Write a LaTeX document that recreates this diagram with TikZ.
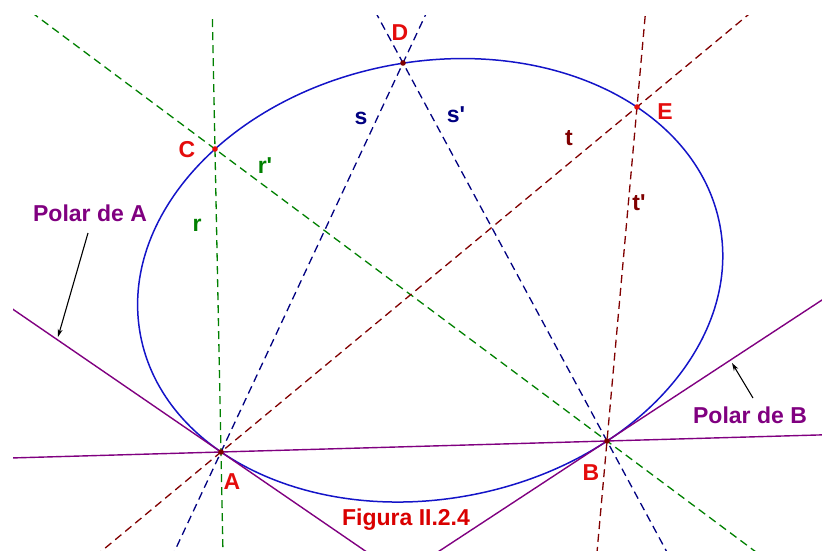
\documentclass[tikz,border=0pt]{standalone}
\usepackage{fontspec}
\setmainfont{Liberation Sans}
\usetikzlibrary{arrows.meta,positioning,calc}
\definecolor{polar}{RGB}{128,0,128}
\definecolor{rgreen}{RGB}{0,128,0}
\definecolor{snavy}{RGB}{0,0,128}
\definecolor{tbrown}{RGB}{128,0,0}
\definecolor{conic}{RGB}{20,20,200}
\definecolor{ptred}{RGB}{228,12,12}

\begin{document}
\begin{tikzpicture}[x=1pt,y=-1pt,font=\fontsize{23}{26}\selectfont\bfseries,
    guide/.style={dash pattern=on 8pt off 5pt, line width=1.3pt},
    polarline/.style={polar, line width=1.4pt},
    lbl/.style={inner sep=0pt},
    pointer/.style={-{Stealth[length=8pt,width=5pt]}, line width=1.1pt}]
    \useasboundingbox (0,0) rectangle (822,551);
    \coordinate (O) at (430.2,280.3);
    \coordinate (A) at (221,452);
    \coordinate (B) at (607,441);
    \coordinate (C) at (215,149);
    \coordinate (D) at (403,63);
    \coordinate (E) at (637,107);
    \coordinate (polA1) at (0,300.4);
    \coordinate (polA2) at (400,574.8);
    \coordinate (polB1) at (400,576.8);
    \coordinate (polB2) at (840,288.2);
    \begin{scope}
      \clip (13,16) rectangle (822,551);
      \draw[guide, rgreen] ($(A)!-1!(C)$) -- ($(C)!-2!(A)$);
      \draw[guide, rgreen] ($(C)!-1!(B)$) -- ($(B)!-1!(C)$);
      \draw[guide, snavy] ($(A)!-1!(D)$) -- ($(D)!-1!(A)$);
      \draw[guide, snavy] ($(B)!-1!(D)$) -- ($(D)!-1!(B)$);
      \draw[guide, tbrown] ($(A)!-1!(E)$) -- ($(E)!-1!(A)$);
      \draw[guide, tbrown] ($(B)!-1!(E)$) -- ($(E)!-2!(B)$);
      \draw[conic, line width=1.5pt, rotate around={10.76:(O)}] (O) ellipse [x radius=294.9pt, y radius=218.6pt];
      \draw[polarline] (polA1) -- (A) -- (polA2);
      \draw[polarline] (polB1) -- (B) -- (polB2);
      \draw[polarline] ($(A)!-1!(B)$) -- ($(B)!-1!(A)$);
    \end{scope}
    % points
    \foreach \p/\c in {A/tbrown,B/tbrown,D/tbrown,C/ptred,E/ptred}
      \fill[\c] (\p) circle (2.8);
    \node[lbl, text=ptred] (labA) at (232,482) {A};
    \node[lbl, text=ptred] (labB) at (591,473) {B};
    \node[lbl, text=ptred] (labC) at (187,150) {C};
    \node[lbl, text=ptred] (labD) at (400,33) {D};
    \node[lbl, text=ptred] (labE) at (665,112) {E};
    \node[lbl, text=rgreen] (labr) at (197,225) {r};
    \node[lbl, text=rgreen] (labrr) at (265,166) {r\textquotesingle};
    \node[lbl, text=snavy] (labs) at (361,118) {s};
    \node[lbl, text=snavy] (labss) at (456,115) {s\textquotesingle};
    \node[lbl, text=tbrown] (labt) at (569,138) {t};
    \node[lbl, text=tbrown] (labtt) at (639,203) {t\textquotesingle};
    \node[lbl, text=polar] (polarA) at (90,213) {Polar de A};
    \node[lbl, text=polar] (polarB) at (750,415) {Polar de B};
    \node[lbl, text=red!85!black] (fig) at (406,520) {Figura II.2.4};
    \coordinate (tailA) at (88,233);
    \coordinate (hitA) at (58,337);
    \coordinate (tailB) at (753,398);
    \coordinate (hitB) at (732,363);
    \draw[pointer] (tailA) -- (hitA);
    \draw[pointer] (tailB) -- (hitB);
  \end{tikzpicture}
\end{document}
